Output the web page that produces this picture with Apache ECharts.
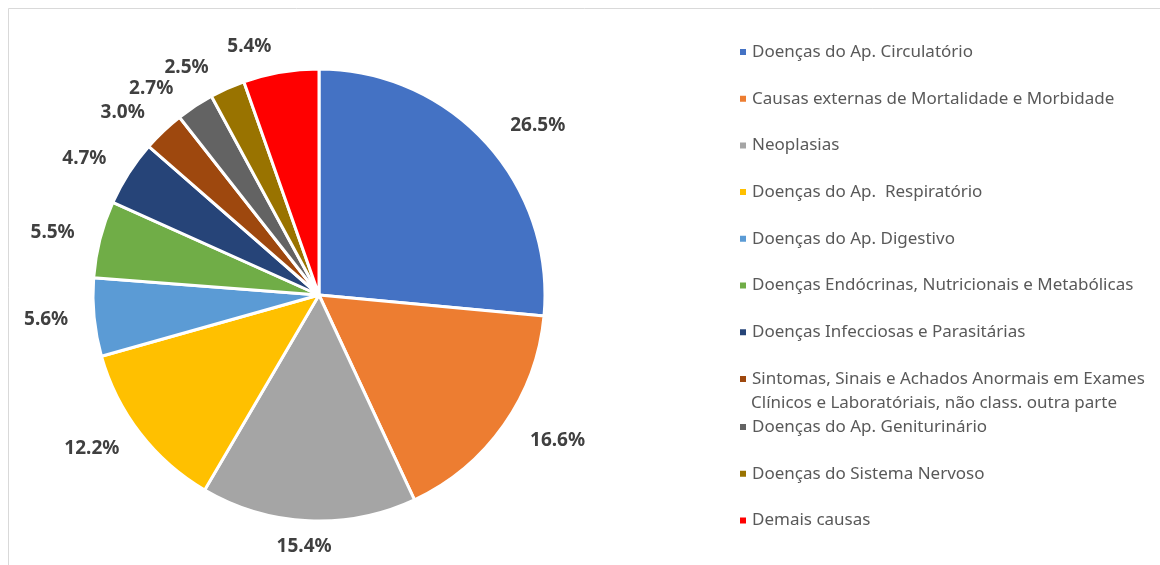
<!DOCTYPE html>
<html>
<head>
<meta charset="utf-8">
<script src="https://cdn.jsdelivr.net/npm/echarts@6/dist/echarts.min.js"></script>
<style>
  html, body { margin: 0; padding: 0; background: #fff; }
  #main { width: 1160px; height: 565px; }
</style>
</head>
<body>
<div id="main"></div>
<script>
// causas de óbito - participação percentual
var categories = [
  'Doenças do Ap. Circulatório',
  'Causas externas de Mortalidade e Morbidade',
  'Neoplasias',
  'Doenças do Ap.  Respiratório',
  'Doenças do Ap. Digestivo',
  'Doenças Endócrinas, Nutricionais e Metabólicas',
  'Doenças Infecciosas e Parasitárias',
  'Sintomas, Sinais e Achados Anormais em Exames\nClínicos e Laboratóriais, não class. outra parte',
  'Doenças do Ap. Geniturinário',
  'Doenças do Sistema Nervoso',
  'Demais causas'
];
var percents = [26.5, 16.6, 15.4, 12.2, 5.6, 5.5, 4.7, 3.0, 2.7, 2.5, 5.4];
var colors = ['#4472C4', '#ED7D31', '#A5A5A5', '#FFC000', '#5B9BD5', '#70AD47',
  '#264478', '#9E480E', '#636363', '#997300', '#FF0000'];

var font = 'Noto Sans';
var legendLeft = 738;

var chart = echarts.init(document.getElementById('main'));

var pieData = categories.map(function (name, i) {
  return { name: name, value: percents[i] };
});

// legend in three blocks so the two-line entry sits like in Excel
function legendBlock(names, top) {
  return {
    orient: 'vertical',
    left: legendLeft,
    top: top,
    padding: 0,
    itemWidth: 8,
    itemHeight: 8,
    itemGap: 22.7,
    icon: 'rect',
    selectedMode: false,
    data: names,
    formatter: function (name) { return name.split('\n')[0]; },
    textStyle: {
      fontFamily: font,
      fontSize: 17,
      color: '#595959',
      lineHeight: 24
    }
  };
}

var option = {
  backgroundColor: '#fff',
  color: colors,
  animation: false,
  graphic: [{
    type: 'rect',
    shape: { x: 8.5, y: 8.5, width: 1200, height: 600 },
    style: { fill: 'none', stroke: '#d9d9d9', lineWidth: 1 },
    silent: true
  }, {
    // second line of the long legend entry
    type: 'text',
    x: legendLeft + 13,
    y: 403,
    silent: true,
    style: {
      text: categories[7].split('\n')[1],
      fontFamily: font,
      fontSize: 17,
      fill: '#595959',
      verticalAlign: 'middle'
    }
  }],
  legend: [
    legendBlock(categories.slice(0, 7), 40),
    legendBlock(categories.slice(7, 8), 367),
    legendBlock(categories.slice(8), 415)
  ],
  series: [{
    type: 'pie',
    center: [319, 295],
    radius: 226,
    startAngle: 90,
    clockwise: true,
    avoidLabelOverlap: true,
    itemStyle: { borderColor: '#fff', borderWidth: 3 },
    label: {
      show: true,
      position: 'outside',
      formatter: function (p) { return p.value.toFixed(1) + '%'; },
      fontFamily: font,
      fontSize: 19,
      fontWeight: 'bold',
      color: '#404040'
    },
    labelLine: { show: false, length: 26, length2: 0 },
    // bottom label is centred under its slice, like Excel does
    labelLayout: function (params) {
      if (params.dataIndex !== 2) return {};
      return {
        x: params.labelRect.x + params.labelRect.width + 2,
        align: 'center'
      };
    },
    emphasis: { disabled: true },
    data: pieData
  }]
};

chart.setOption(option);
</script>
</body>
</html>
